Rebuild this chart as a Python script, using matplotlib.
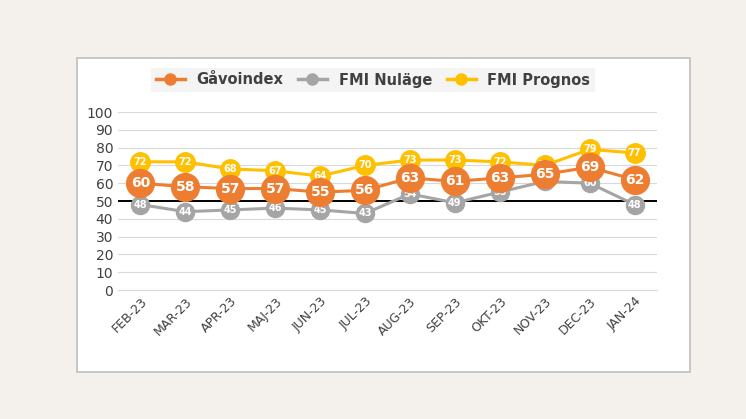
import matplotlib
matplotlib.use("Agg")
import matplotlib.pyplot as plt
from matplotlib.patches import Rectangle
from matplotlib.lines import Line2D

months = ["FEB-23", "MAR-23", "APR-23", "MAJ-23", "JUN-23", "JUL-23", "AUG-23",
          "SEP-23", "OKT-23", "NOV-23", "DEC-23", "JAN-24"]
gavoindex = [60, 58, 57, 57, 55, 56, 63, 61, 63, 65, 69, 62]
fmi_nulage = [48, 44, 45, 46, 45, 43, 54, 49, 55, 61, 60, 48]
fmi_prognos = [72, 72, 68, 67, 64, 70, 73, 73, 72, 70, 79, 77]

orange = "#ed7d31"
gray = "#a5a5a5"
gold = "#ffc000"

fig = plt.figure(figsize=(7.46, 4.19), dpi=100)
fig.patch.set_facecolor("#f4f1ed")
fig.patches.append(Rectangle((77 / 746, 1 - 372 / 419), 613 / 746, 314 / 419,
                             transform=fig.transFigure, facecolor="white",
                             edgecolor="#bfbfbf", lw=1.2, zorder=-5))

ax = fig.add_axes([118 / 746, 1 - 290 / 419, 539 / 746, 178 / 419])
ax.set_zorder(1)
ax.set_facecolor("none")
x = range(len(months))

ax.plot(x, fmi_nulage, color=gray, lw=2.2, marker="o", ms=13, zorder=3)
for i, v in enumerate(fmi_nulage):
    ax.text(i, v, str(v), ha="center", va="center", color="white", fontsize=7, fontweight="bold", zorder=4)
ax.plot(x, fmi_prognos, color=gold, lw=2.2, marker="o", ms=14, zorder=5)
for i, v in enumerate(fmi_prognos):
    ax.text(i, v, str(v), ha="center", va="center", color="white", fontsize=7, fontweight="bold", zorder=6)
ax.plot(x, gavoindex, color=orange, lw=2.2, marker="o", ms=20, zorder=7)
for i, v in enumerate(gavoindex):
    ax.text(i, v, str(v), ha="center", va="center", color="white", fontsize=10, fontweight="bold", zorder=8)

ax.axhline(50, color="black", lw=1.4, zorder=2)
ax.set_ylim(0, 100)
ax.set_xlim(-0.5, len(months) - 0.5)
ax.set_yticks(range(0, 101, 10))
ax.yaxis.grid(True, color="#d9d9d9", lw=0.8)
ax.set_axisbelow(True)
ax.tick_params(length=0, labelsize=10, colors="#404040")
ax.set_xticks(list(x))
ax.set_xticklabels(months, rotation=45, ha="right", rotation_mode="anchor", fontsize=9)
for s in ["top", "right", "left"]:
    ax.spines[s].set_visible(False)
ax.spines["bottom"].set_color("#d9d9d9")

handles = [Line2D([], [], color=c, lw=2.5, marker="o", ms=8) for c in (orange, gray, gold)]
fig.legend(handles, ["Gåvoindex", "FMI Nuläge", "FMI Prognos"], loc="center",
           bbox_to_anchor=(0.5, 1 - 80 / 419), ncol=3, frameon=True, facecolor="#f2f2f2",
           edgecolor="none", fancybox=False, prop={"weight": "bold", "size": 10.5},
           handlelength=2, columnspacing=1.0, borderpad=0.3)
for t in fig.legends[0].get_texts():
    t.set_color("#404040")

fig.savefig("out.png", dpi=100, facecolor=fig.get_facecolor())
